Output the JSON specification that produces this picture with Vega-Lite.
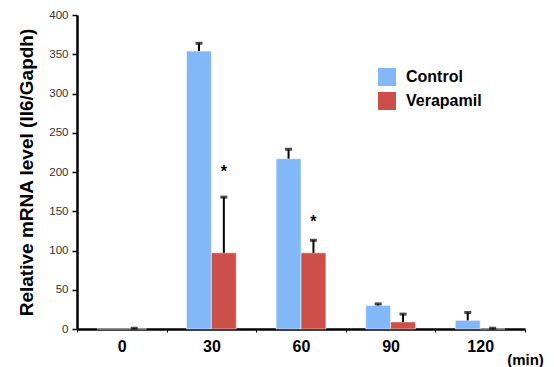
{
  "$schema": "https://vega.github.io/schema/vega-lite/v6.json",
  "width": 448,
  "height": 314,
  "autosize": "none",
  "padding": {"left": 77, "top": 15, "right": 29, "bottom": 38},
  "background": "white",
  "config": {
    "view": {"stroke": null},
    "font": "Liberation Sans",
    "axisY": {
      "titleFontSize": 19,
      "titleFontWeight": "bold",
      "titleColor": "black",
      "titlePadding": 12,
      "labelFontSize": 11.5,
      "labelColor": "#333333",
      "labelPadding": 4,
      "labelOverlap": false,
      "tickSize": 5,
      "tickColor": "black",
      "tickWidth": 1.5,
      "domainColor": "black",
      "domainWidth": 2.5,
      "grid": false
    }
  },
  "data": {
    "values": [
      {"time": "0", "group": "Control", "value": 0, "err": 0},
      {"time": "0", "group": "Verapamil", "value": 0, "err": 1},
      {"time": "30", "group": "Control", "value": 354, "err": 364},
      {"time": "30", "group": "Verapamil", "value": 97, "err": 168, "star": 204},
      {"time": "60", "group": "Control", "value": 217, "err": 229},
      {"time": "60", "group": "Verapamil", "value": 97, "err": 113, "star": 140},
      {"time": "90", "group": "Control", "value": 30, "err": 32},
      {"time": "90", "group": "Verapamil", "value": 9, "err": 19},
      {"time": "120", "group": "Control", "value": 11, "err": 21},
      {"time": "120", "group": "Verapamil", "value": 0, "err": 1}
    ]
  },
  "encoding": {
    "x": {
      "field": "time",
      "type": "nominal",
      "sort": ["0", "30", "60", "90", "120"],
      "scale": {"paddingInner": 0, "paddingOuter": 0},
      "axis": {
        "title": "(min)",
        "titleAnchor": "end",
        "titleAlign": "center",
        "titleBaseline": "top",
        "titleY": 23,
        "titleFontSize": 15,
        "titleFontWeight": "bold",
        "titleColor": "black",
        "labelAngle": 0,
        "labelFontSize": 16,
        "labelFontWeight": "bold",
        "labelColor": "black",
        "labelPadding": 6,
        "tickBand": "extent",
        "tickSize": 3,
        "tickColor": "black",
        "domainColor": "black",
        "domainWidth": 2.5
      }
    },
    "xOffset": {
      "field": "group",
      "type": "nominal",
      "scale": {"domain": ["Control", "Verapamil"], "paddingInner": 0, "paddingOuter": 0.8}
    }
  },
  "layer": [
    {
      "mark": {"type": "bar", "stroke": "white", "strokeWidth": 0.5},
      "encoding": {
        "y": {
          "field": "value",
          "type": "quantitative",
          "scale": {"domain": [0, 400], "nice": false},
          "axis": {"title": "Relative mRNA level (Il6/Gapdh)", "values": [0, 50, 100, 150, 200, 250, 300, 350, 400]}
        },
        "color": {
          "field": "group",
          "type": "nominal",
          "scale": {"domain": ["Control", "Verapamil"], "range": ["#82B8F7", "#CC4F4A"]},
          "legend": {
            "title": null,
            "orient": "none",
            "legendX": 301,
            "legendY": 53,
            "symbolType": "square",
            "symbolSize": 324,
            "symbolStrokeWidth": 0,
            "symbolOpacity": 1,
            "labelFontSize": 16,
            "labelFontWeight": "bold",
            "labelColor": "black",
            "labelOffset": 10,
            "rowPadding": 6
          }
        }
      }
    },
    {
      "mark": {"type": "rule", "color": "black", "strokeWidth": 2},
      "encoding": {
        "y": {"field": "value", "type": "quantitative", "axis": {"title": "Relative mRNA level (Il6/Gapdh)", "values": [0, 50, 100, 150, 200, 250, 300, 350, 400]}},
        "y2": {"field": "err"}
      }
    },
    {
      "mark": {"type": "tick", "color": "black", "size": 7, "thickness": 3, "orient": "horizontal"},
      "transform": [{"filter": "datum.err > 0"}],
      "encoding": {
        "y": {"field": "err", "type": "quantitative", "axis": {"title": "Relative mRNA level (Il6/Gapdh)", "values": [0, 50, 100, 150, 200, 250, 300, 350, 400]}}
      }
    },
    {
      "mark": {"type": "text", "text": "*", "fontSize": 16, "fontWeight": "bold", "color": "black", "baseline": "middle", "dy": 3},
      "transform": [{"filter": "isValid(datum.star)"}],
      "encoding": {
        "y": {"field": "star", "type": "quantitative", "axis": {"title": "Relative mRNA level (Il6/Gapdh)", "values": [0, 50, 100, 150, 200, 250, 300, 350, 400]}}
      }
    }
  ]
}
